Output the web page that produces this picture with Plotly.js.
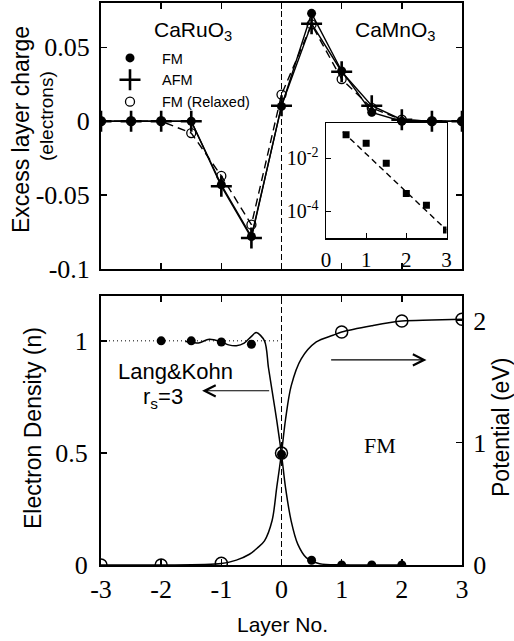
<!DOCTYPE html>
<html>
<head>
<meta charset="utf-8">
<script src="https://cdn.plot.ly/plotly-3.0.1.min.js"></script>
<style>html,body{margin:0;padding:0;background:#fff;}#chart{width:514px;height:641px;}</style>
</head>
<body>
<div id="chart"></div>
<script>
// ---------- Top panel: excess layer charge ----------
const layerX = [-3, -2.5, -2, -1.5, -1, -0.5, 0, 0.5, 1, 1.5, 2, 2.5, 3];
const chargeFM = [0, 0, 0, 0, -0.043, -0.078, 0.010, 0.073, 0.034, 0.006, 0, 0, 0];
const chargeAFM = [0, 0, 0, 0, -0.044, -0.079, 0.0105, 0.066, 0.0335, 0.0105, 0.001, 0, 0];
const chargeRelaxed = [0, 0, 0, -0.008, -0.037, -0.070, 0.018, 0.0655, 0.0285, 0.009, 0.001, 0, 0];
const chargeTicks = [-0.1, -0.05, 0, 0.05];
const chargeTickText = ['-0.1', '-0.05', '0', '0.05'];

// ---------- Inset: log of charge ----------
const insetX = [0.5, 1, 1.5, 2, 2.5, 3];
const insetCharge = [0.077, 0.037, 0.0065, 0.00047, 0.00017, 0.00002];
const insetFitX = [0.42, 3];
const insetFitY = [0.10, 0.00002];
const insetYTicks = [0.01, 0.0001];
const insetYTickText = ['10<sup>-2</sup>', '10<sup>-4</sup>'];

// ---------- Bottom panel: Lang & Kohn ----------
const densityCurveX = [-1.6, -1.5, -1.38, -1.2, -1.0, -0.88, -0.75, -0.62, -0.5, -0.42, -0.283, -0.217, -0.156, -0.078, 0, 0.067, 0.161, 0.272, 0.411, 0.633, 1.0, 1.5, 2.0];
const densityCurveN = [0.997, 0.995, 0.99, 1.007, 0.995, 0.982, 0.978, 0.99, 1.02, 1.037, 1.0, 0.881, 0.777, 0.643, 0.494, 0.345, 0.196, 0.092, 0.033, 0.006, 0.001, 0, 0];
const densityDotX = [-2, -1.5, -1, -0.5, 0, 0.5, 1, 1.5, 2];
const densityDotN = [1, 1, 0.995, 0.985, 0.494, 0.021, 0, 0, 0];
const potentialCurveX = [-3, -2, -1, -0.75, -0.533, -0.4, -0.283, -0.156, -0.078, 0, 0.067, 0.161, 0.328, 0.578, 0.856, 1.0, 1.5, 2, 2.5, 3];
const potentialCurveV = [0, 0, 0.012, 0.04, 0.088, 0.14, 0.198, 0.364, 0.639, 0.915, 1.19, 1.465, 1.686, 1.824, 1.879, 1.905, 1.956, 1.995, 2.003, 2.01];
const potentialDotX = [-3, -2, -1, 0, 1, 2, 3];
const potentialDotV = [0, 0, 0.015, 0.915, 1.905, 1.995, 2.01];
const bulkLineX = [-3, 0];
const bulkLineN = [1, 1];
const layerTicks = [-3, -2, -1, 0, 1, 2, 3];
const layerTickText = ['-3', '-2', '-1', '0', '1', '2', '3'];
const densityTicks = [0, 0.5, 1];
const densityTickText = ['0', '0.5', '1'];
const potentialTicks = [0, 1, 2];

const SANS = 'Liberation Sans, Arial, sans-serif';
const SERIF = 'Liberation Serif, Times New Roman, serif';
const K = '#000';

const traces = [
  // top panel lines + markers
  {x: layerX, y: chargeRelaxed, xaxis: 'x', yaxis: 'y', mode: 'lines+markers', showlegend: false,
   line: {color: K, width: 1.4, dash: '8px,5px'}, marker: {symbol: 'circle-open', size: 9, color: K, line: {width: 1.3, color: K}}},
  {x: layerX, y: chargeAFM, xaxis: 'x', yaxis: 'y', mode: 'lines+markers', showlegend: false,
   line: {color: K, width: 1.4}, marker: {symbol: 'cross-thin', size: 15, color: K, line: {width: 2.6, color: K}}},
  {x: layerX, y: chargeFM, xaxis: 'x', yaxis: 'y', mode: 'lines+markers', showlegend: false,
   line: {color: K, width: 1.4}, marker: {symbol: 'circle', size: 9, color: K}},
  // legend entries
  {x: [null], y: [null], xaxis: 'x', yaxis: 'y', mode: 'markers', name: 'FM', marker: {symbol: 'circle', size: 9, color: K}},
  {x: [null], y: [null], xaxis: 'x', yaxis: 'y', mode: 'markers', name: 'AFM', marker: {symbol: 'cross-thin', size: 15, color: K, line: {width: 2.6, color: K}}},
  {x: [null], y: [null], xaxis: 'x', yaxis: 'y', mode: 'markers', name: 'FM (Relaxed)', marker: {symbol: 'circle-open', size: 9, color: K, line: {width: 1.3, color: K}}},
  // inset
  {x: insetFitX, y: insetFitY, xaxis: 'x3', yaxis: 'y4', mode: 'lines', showlegend: false, line: {color: K, width: 1.4, dash: '6px,4px'}},
  {x: insetX, y: insetCharge, xaxis: 'x3', yaxis: 'y4', mode: 'markers', showlegend: false, marker: {symbol: 'square', size: 7, color: K}},
  // bottom panel
  {x: bulkLineX, y: bulkLineN, xaxis: 'x2', yaxis: 'y2', mode: 'lines', showlegend: false, line: {color: K, width: 1, dash: '1px,3px'}},
  {x: densityCurveX, y: densityCurveN, xaxis: 'x2', yaxis: 'y2', mode: 'lines', showlegend: false, line: {color: K, width: 1.5, shape: 'spline', smoothing: 0.9}},
  {x: potentialCurveX, y: potentialCurveV, xaxis: 'x2', yaxis: 'y3', mode: 'lines', showlegend: false, line: {color: K, width: 1.5, shape: 'spline', smoothing: 0.9}},
  {x: densityDotX, y: densityDotN, xaxis: 'x2', yaxis: 'y2', mode: 'markers', showlegend: false, marker: {symbol: 'circle', size: 9, color: K}},
  {x: potentialDotX, y: potentialDotV, xaxis: 'x2', yaxis: 'y3', mode: 'markers', showlegend: false, marker: {symbol: 'circle-open', size: 12, color: K, line: {width: 1.5, color: K}}}
];

const L = 101, R = 462, T = 3, B = 565;
const px = v => (v - L) / (R - L);
const py = v => (B - v) / (B - T);

const axBase = {showgrid: false, zeroline: false, showline: true, linecolor: K, linewidth: 2,
  ticks: 'inside', ticklen: 6, tickwidth: 1.5, tickcolor: K, tickfont: {family: SERIF, size: 26, color: K}};

function label(text, x, y, size, family, angle) {
  return {text: text, xref: 'paper', yref: 'paper', x: px(x), y: py(y), xanchor: 'center', yanchor: 'middle',
    textangle: angle || 0, showarrow: false, font: {family: family || SANS, size: size, color: K}};
}

const layout = {
  width: 514, height: 641,
  margin: {l: L, r: 514 - R, t: T, b: 641 - B, pad: 0},
  paper_bgcolor: '#fff', plot_bgcolor: 'rgba(0,0,0,0)',
  font: {family: SANS, color: K},
  showlegend: true,
  legend: {x: px(98), y: py(42), xanchor: 'left', yanchor: 'top', bgcolor: 'rgba(0,0,0,0)',
    font: {family: SANS, size: 14.5, color: K}, itemwidth: 54, tracegroupgap: 0, borderwidth: 0},
  xaxis: Object.assign({}, axBase, {domain: [0, 1], anchor: 'y', range: [-3, 3], tickvals: layerTicks, showticklabels: false, mirror: 'ticks'}),
  yaxis: Object.assign({}, axBase, {domain: [py(269), 1], anchor: 'x', range: [-0.1, 0.08], tickvals: chargeTicks, ticktext: chargeTickText, mirror: 'ticks', ticklabelstandoff: 4}),
  xaxis2: Object.assign({}, axBase, {domain: [0, 1], anchor: 'y2', range: [-3, 3], tickvals: layerTicks, ticktext: layerTickText, mirror: 'ticks', ticklabelstandoff: 0}),
  yaxis2: Object.assign({}, axBase, {domain: [0, py(296)], anchor: 'x2', range: [0, 1.2], tickvals: densityTicks, ticktext: densityTickText, ticklabelstandoff: 6}),
  yaxis3: Object.assign({}, axBase, {overlaying: 'y2', anchor: 'x2', side: 'right', range: [0, 2.2], tickvals: potentialTicks, ticklabelstandoff: 4}),
  xaxis3: Object.assign({}, axBase, {domain: [px(326), px(446.5)], anchor: 'y4', range: [0, 3], tickvals: [0, 1, 2, 3], mirror: true, linewidth: 1.5, ticklen: 5, tickwidth: 1, tickfont: {family: SERIF, size: 21, color: K}, ticklabelstandoff: 2}),
  yaxis4: Object.assign({}, axBase, {domain: [py(238), py(123)], anchor: 'x3', type: 'log', range: [-5.0, -0.67], tickvals: insetYTicks, ticktext: insetYTickText, mirror: true, linewidth: 1.5, ticklen: 5, tickwidth: 1, tickfont: {family: SERIF, size: 20, color: K}, ticklabelstandoff: 2}),
  shapes: [
    {type: 'line', xref: 'x', yref: 'y domain', x0: 0, x1: 0, y0: 0, y1: 1, line: {color: K, width: 1, dash: '6px,3px'}, layer: 'below'},
    {type: 'line', xref: 'x2', yref: 'y2 domain', x0: 0, x1: 0, y0: 0, y1: 1, line: {color: K, width: 1, dash: '6px,3px'}, layer: 'below'}
  ],
  annotations: [
    label('Excess layer charge', 21, 130, 23, SANS, -90),
    label('(electrons)', 47, 116, 19, SANS, -90),
    label('Electron Density (n)', 33, 428, 23, SANS, -90),
    label('Potential (eV)', 501, 428, 23, SANS, -90),
    label('Layer No.', 282, 624, 21),
    label('CaRuO<sub>3</sub>', 193, 31, 21),
    label('CaMnO<sub>3</sub>', 395, 31, 21),
    label('Lang&amp;Kohn', 175, 371, 22),
    label('r<sub>s</sub>=3', 163, 398, 22),
    label('FM', 380, 445, 22, SERIF),
    {text: '', xref: 'x2', yref: 'y2', axref: 'x2', ayref: 'y2', x: -1.32, y: 0.777, ax: -0.18, ay: 0.777,
     showarrow: true, arrowhead: 5, arrowsize: 2, arrowwidth: 1.1, arrowcolor: K},
    {text: '', xref: 'x2', yref: 'y2', axref: 'x2', ayref: 'y2', x: 2.41, y: 0.915, ax: 0.8, ay: 0.915,
     showarrow: true, arrowhead: 5, arrowsize: 2, arrowwidth: 1.1, arrowcolor: K}
  ]
};

Plotly.newPlot('chart', traces, layout, {displayModeBar: false, staticPlot: true});
</script>
</body>
</html>
